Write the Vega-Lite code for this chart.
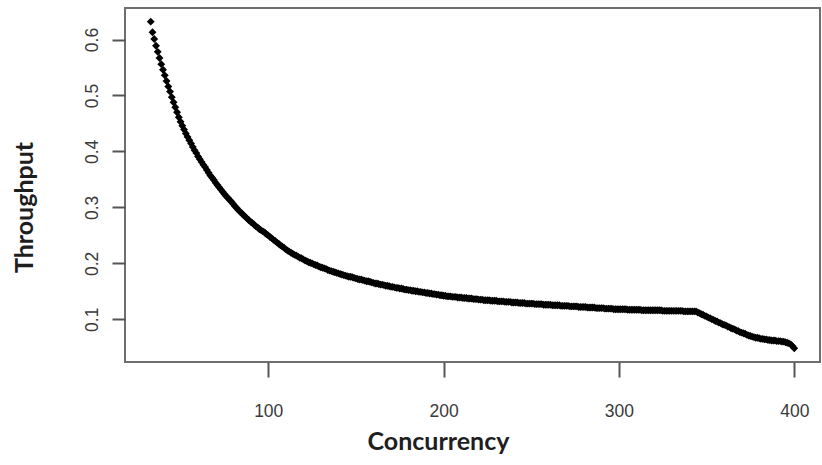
{
  "$schema": "https://vega.github.io/schema/vega-lite/v6.json",
  "width": 695,
  "height": 354,
  "autosize": {"type": "none"},
  "padding": {"left": 125, "top": 8, "right": 2, "bottom": 103},
  "background": "white",
  "config": {
    "view": {"stroke": "#6e6e6e", "strokeWidth": 2},
    "axis": {
      "grid": false,
      "domain": false,
      "tickColor": "#555555",
      "tickWidth": 2,
      "labelFont": "Liberation Sans",
      "labelFontSize": 17.5,
      "labelColor": "#3a3a3a",
      "titleFont": "Lato",
      "titleFontWeight": "bold",
      "titleFontSize": 25,
      "titleColor": "#1e1e1e"
    }
  },
  "data": {
    "values": [
      {"concurrency": 33, "throughput": 0.632},
      {"concurrency": 34, "throughput": 0.613},
      {"concurrency": 35, "throughput": 0.601},
      {"concurrency": 36, "throughput": 0.589},
      {"concurrency": 37, "throughput": 0.578},
      {"concurrency": 38, "throughput": 0.567},
      {"concurrency": 39, "throughput": 0.556},
      {"concurrency": 40, "throughput": 0.546},
      {"concurrency": 41, "throughput": 0.536},
      {"concurrency": 42, "throughput": 0.526},
      {"concurrency": 43, "throughput": 0.516},
      {"concurrency": 44, "throughput": 0.507},
      {"concurrency": 45, "throughput": 0.497},
      {"concurrency": 46, "throughput": 0.488},
      {"concurrency": 47, "throughput": 0.479},
      {"concurrency": 48, "throughput": 0.470},
      {"concurrency": 49, "throughput": 0.461},
      {"concurrency": 50, "throughput": 0.453},
      {"concurrency": 51, "throughput": 0.446},
      {"concurrency": 52, "throughput": 0.439},
      {"concurrency": 53, "throughput": 0.432},
      {"concurrency": 54, "throughput": 0.426},
      {"concurrency": 55, "throughput": 0.420},
      {"concurrency": 56, "throughput": 0.414},
      {"concurrency": 57, "throughput": 0.408},
      {"concurrency": 58, "throughput": 0.402},
      {"concurrency": 59, "throughput": 0.397},
      {"concurrency": 60, "throughput": 0.391},
      {"concurrency": 61, "throughput": 0.386},
      {"concurrency": 62, "throughput": 0.381},
      {"concurrency": 63, "throughput": 0.376},
      {"concurrency": 64, "throughput": 0.372},
      {"concurrency": 65, "throughput": 0.367},
      {"concurrency": 66, "throughput": 0.362},
      {"concurrency": 67, "throughput": 0.357},
      {"concurrency": 68, "throughput": 0.353},
      {"concurrency": 69, "throughput": 0.349},
      {"concurrency": 70, "throughput": 0.344},
      {"concurrency": 71, "throughput": 0.340},
      {"concurrency": 72, "throughput": 0.336},
      {"concurrency": 73, "throughput": 0.332},
      {"concurrency": 74, "throughput": 0.328},
      {"concurrency": 75, "throughput": 0.324},
      {"concurrency": 76, "throughput": 0.320},
      {"concurrency": 77, "throughput": 0.317},
      {"concurrency": 78, "throughput": 0.313},
      {"concurrency": 79, "throughput": 0.310},
      {"concurrency": 80, "throughput": 0.306},
      {"concurrency": 81, "throughput": 0.302},
      {"concurrency": 82, "throughput": 0.299},
      {"concurrency": 83, "throughput": 0.295},
      {"concurrency": 84, "throughput": 0.292},
      {"concurrency": 85, "throughput": 0.289},
      {"concurrency": 86, "throughput": 0.286},
      {"concurrency": 87, "throughput": 0.283},
      {"concurrency": 88, "throughput": 0.280},
      {"concurrency": 89, "throughput": 0.277},
      {"concurrency": 90, "throughput": 0.274},
      {"concurrency": 91, "throughput": 0.272},
      {"concurrency": 92, "throughput": 0.269},
      {"concurrency": 93, "throughput": 0.266},
      {"concurrency": 94, "throughput": 0.264},
      {"concurrency": 95, "throughput": 0.261},
      {"concurrency": 96, "throughput": 0.259},
      {"concurrency": 97, "throughput": 0.257},
      {"concurrency": 98, "throughput": 0.255},
      {"concurrency": 99, "throughput": 0.252},
      {"concurrency": 100, "throughput": 0.250},
      {"concurrency": 101, "throughput": 0.247},
      {"concurrency": 102, "throughput": 0.245},
      {"concurrency": 103, "throughput": 0.242},
      {"concurrency": 104, "throughput": 0.240},
      {"concurrency": 105, "throughput": 0.237},
      {"concurrency": 106, "throughput": 0.235},
      {"concurrency": 107, "throughput": 0.232},
      {"concurrency": 108, "throughput": 0.230},
      {"concurrency": 109, "throughput": 0.228},
      {"concurrency": 110, "throughput": 0.225},
      {"concurrency": 111, "throughput": 0.223},
      {"concurrency": 112, "throughput": 0.221},
      {"concurrency": 113, "throughput": 0.219},
      {"concurrency": 114, "throughput": 0.217},
      {"concurrency": 115, "throughput": 0.215},
      {"concurrency": 116, "throughput": 0.214},
      {"concurrency": 117, "throughput": 0.212},
      {"concurrency": 118, "throughput": 0.210},
      {"concurrency": 119, "throughput": 0.209},
      {"concurrency": 120, "throughput": 0.207},
      {"concurrency": 121, "throughput": 0.205},
      {"concurrency": 122, "throughput": 0.204},
      {"concurrency": 123, "throughput": 0.202},
      {"concurrency": 124, "throughput": 0.201},
      {"concurrency": 125, "throughput": 0.200},
      {"concurrency": 126, "throughput": 0.198},
      {"concurrency": 127, "throughput": 0.197},
      {"concurrency": 128, "throughput": 0.196},
      {"concurrency": 129, "throughput": 0.194},
      {"concurrency": 130, "throughput": 0.193},
      {"concurrency": 131, "throughput": 0.192},
      {"concurrency": 132, "throughput": 0.191},
      {"concurrency": 133, "throughput": 0.190},
      {"concurrency": 134, "throughput": 0.188},
      {"concurrency": 135, "throughput": 0.187},
      {"concurrency": 136, "throughput": 0.186},
      {"concurrency": 137, "throughput": 0.185},
      {"concurrency": 138, "throughput": 0.184},
      {"concurrency": 139, "throughput": 0.183},
      {"concurrency": 140, "throughput": 0.182},
      {"concurrency": 141, "throughput": 0.181},
      {"concurrency": 142, "throughput": 0.180},
      {"concurrency": 143, "throughput": 0.179},
      {"concurrency": 144, "throughput": 0.178},
      {"concurrency": 145, "throughput": 0.177},
      {"concurrency": 146, "throughput": 0.176},
      {"concurrency": 147, "throughput": 0.176},
      {"concurrency": 148, "throughput": 0.175},
      {"concurrency": 149, "throughput": 0.174},
      {"concurrency": 150, "throughput": 0.173},
      {"concurrency": 151, "throughput": 0.172},
      {"concurrency": 152, "throughput": 0.171},
      {"concurrency": 153, "throughput": 0.171},
      {"concurrency": 154, "throughput": 0.170},
      {"concurrency": 155, "throughput": 0.169},
      {"concurrency": 156, "throughput": 0.168},
      {"concurrency": 157, "throughput": 0.168},
      {"concurrency": 158, "throughput": 0.167},
      {"concurrency": 159, "throughput": 0.166},
      {"concurrency": 160, "throughput": 0.165},
      {"concurrency": 161, "throughput": 0.164},
      {"concurrency": 162, "throughput": 0.164},
      {"concurrency": 163, "throughput": 0.163},
      {"concurrency": 164, "throughput": 0.162},
      {"concurrency": 165, "throughput": 0.162},
      {"concurrency": 166, "throughput": 0.161},
      {"concurrency": 167, "throughput": 0.160},
      {"concurrency": 168, "throughput": 0.160},
      {"concurrency": 169, "throughput": 0.159},
      {"concurrency": 170, "throughput": 0.158},
      {"concurrency": 171, "throughput": 0.158},
      {"concurrency": 172, "throughput": 0.157},
      {"concurrency": 173, "throughput": 0.156},
      {"concurrency": 174, "throughput": 0.156},
      {"concurrency": 175, "throughput": 0.155},
      {"concurrency": 176, "throughput": 0.155},
      {"concurrency": 177, "throughput": 0.154},
      {"concurrency": 178, "throughput": 0.153},
      {"concurrency": 179, "throughput": 0.153},
      {"concurrency": 180, "throughput": 0.152},
      {"concurrency": 181, "throughput": 0.152},
      {"concurrency": 182, "throughput": 0.151},
      {"concurrency": 183, "throughput": 0.151},
      {"concurrency": 184, "throughput": 0.150},
      {"concurrency": 185, "throughput": 0.150},
      {"concurrency": 186, "throughput": 0.149},
      {"concurrency": 187, "throughput": 0.149},
      {"concurrency": 188, "throughput": 0.148},
      {"concurrency": 189, "throughput": 0.148},
      {"concurrency": 190, "throughput": 0.147},
      {"concurrency": 191, "throughput": 0.147},
      {"concurrency": 192, "throughput": 0.146},
      {"concurrency": 193, "throughput": 0.146},
      {"concurrency": 194, "throughput": 0.145},
      {"concurrency": 195, "throughput": 0.145},
      {"concurrency": 196, "throughput": 0.144},
      {"concurrency": 197, "throughput": 0.144},
      {"concurrency": 198, "throughput": 0.143},
      {"concurrency": 199, "throughput": 0.143},
      {"concurrency": 200, "throughput": 0.142},
      {"concurrency": 201, "throughput": 0.142},
      {"concurrency": 202, "throughput": 0.141},
      {"concurrency": 203, "throughput": 0.141},
      {"concurrency": 204, "throughput": 0.141},
      {"concurrency": 205, "throughput": 0.140},
      {"concurrency": 206, "throughput": 0.140},
      {"concurrency": 207, "throughput": 0.140},
      {"concurrency": 208, "throughput": 0.139},
      {"concurrency": 209, "throughput": 0.139},
      {"concurrency": 210, "throughput": 0.139},
      {"concurrency": 211, "throughput": 0.138},
      {"concurrency": 212, "throughput": 0.138},
      {"concurrency": 213, "throughput": 0.138},
      {"concurrency": 214, "throughput": 0.137},
      {"concurrency": 215, "throughput": 0.137},
      {"concurrency": 216, "throughput": 0.137},
      {"concurrency": 217, "throughput": 0.136},
      {"concurrency": 218, "throughput": 0.136},
      {"concurrency": 219, "throughput": 0.136},
      {"concurrency": 220, "throughput": 0.135},
      {"concurrency": 221, "throughput": 0.135},
      {"concurrency": 222, "throughput": 0.135},
      {"concurrency": 223, "throughput": 0.134},
      {"concurrency": 224, "throughput": 0.134},
      {"concurrency": 225, "throughput": 0.134},
      {"concurrency": 226, "throughput": 0.134},
      {"concurrency": 227, "throughput": 0.133},
      {"concurrency": 228, "throughput": 0.133},
      {"concurrency": 229, "throughput": 0.133},
      {"concurrency": 230, "throughput": 0.133},
      {"concurrency": 231, "throughput": 0.132},
      {"concurrency": 232, "throughput": 0.132},
      {"concurrency": 233, "throughput": 0.132},
      {"concurrency": 234, "throughput": 0.132},
      {"concurrency": 235, "throughput": 0.131},
      {"concurrency": 236, "throughput": 0.131},
      {"concurrency": 237, "throughput": 0.131},
      {"concurrency": 238, "throughput": 0.131},
      {"concurrency": 239, "throughput": 0.130},
      {"concurrency": 240, "throughput": 0.130},
      {"concurrency": 241, "throughput": 0.130},
      {"concurrency": 242, "throughput": 0.130},
      {"concurrency": 243, "throughput": 0.129},
      {"concurrency": 244, "throughput": 0.129},
      {"concurrency": 245, "throughput": 0.129},
      {"concurrency": 246, "throughput": 0.129},
      {"concurrency": 247, "throughput": 0.128},
      {"concurrency": 248, "throughput": 0.128},
      {"concurrency": 249, "throughput": 0.128},
      {"concurrency": 250, "throughput": 0.128},
      {"concurrency": 251, "throughput": 0.128},
      {"concurrency": 252, "throughput": 0.127},
      {"concurrency": 253, "throughput": 0.127},
      {"concurrency": 254, "throughput": 0.127},
      {"concurrency": 255, "throughput": 0.127},
      {"concurrency": 256, "throughput": 0.127},
      {"concurrency": 257, "throughput": 0.126},
      {"concurrency": 258, "throughput": 0.126},
      {"concurrency": 259, "throughput": 0.126},
      {"concurrency": 260, "throughput": 0.126},
      {"concurrency": 261, "throughput": 0.126},
      {"concurrency": 262, "throughput": 0.125},
      {"concurrency": 263, "throughput": 0.125},
      {"concurrency": 264, "throughput": 0.125},
      {"concurrency": 265, "throughput": 0.125},
      {"concurrency": 266, "throughput": 0.125},
      {"concurrency": 267, "throughput": 0.124},
      {"concurrency": 268, "throughput": 0.124},
      {"concurrency": 269, "throughput": 0.124},
      {"concurrency": 270, "throughput": 0.124},
      {"concurrency": 271, "throughput": 0.124},
      {"concurrency": 272, "throughput": 0.123},
      {"concurrency": 273, "throughput": 0.123},
      {"concurrency": 274, "throughput": 0.123},
      {"concurrency": 275, "throughput": 0.123},
      {"concurrency": 276, "throughput": 0.123},
      {"concurrency": 277, "throughput": 0.122},
      {"concurrency": 278, "throughput": 0.122},
      {"concurrency": 279, "throughput": 0.122},
      {"concurrency": 280, "throughput": 0.122},
      {"concurrency": 281, "throughput": 0.122},
      {"concurrency": 282, "throughput": 0.121},
      {"concurrency": 283, "throughput": 0.121},
      {"concurrency": 284, "throughput": 0.121},
      {"concurrency": 285, "throughput": 0.121},
      {"concurrency": 286, "throughput": 0.121},
      {"concurrency": 287, "throughput": 0.120},
      {"concurrency": 288, "throughput": 0.120},
      {"concurrency": 289, "throughput": 0.120},
      {"concurrency": 290, "throughput": 0.120},
      {"concurrency": 291, "throughput": 0.120},
      {"concurrency": 292, "throughput": 0.119},
      {"concurrency": 293, "throughput": 0.119},
      {"concurrency": 294, "throughput": 0.119},
      {"concurrency": 295, "throughput": 0.119},
      {"concurrency": 296, "throughput": 0.119},
      {"concurrency": 297, "throughput": 0.118},
      {"concurrency": 298, "throughput": 0.118},
      {"concurrency": 299, "throughput": 0.118},
      {"concurrency": 300, "throughput": 0.118},
      {"concurrency": 301, "throughput": 0.118},
      {"concurrency": 302, "throughput": 0.118},
      {"concurrency": 303, "throughput": 0.118},
      {"concurrency": 304, "throughput": 0.118},
      {"concurrency": 305, "throughput": 0.117},
      {"concurrency": 306, "throughput": 0.117},
      {"concurrency": 307, "throughput": 0.117},
      {"concurrency": 308, "throughput": 0.117},
      {"concurrency": 309, "throughput": 0.117},
      {"concurrency": 310, "throughput": 0.117},
      {"concurrency": 311, "throughput": 0.117},
      {"concurrency": 312, "throughput": 0.117},
      {"concurrency": 313, "throughput": 0.116},
      {"concurrency": 314, "throughput": 0.116},
      {"concurrency": 315, "throughput": 0.116},
      {"concurrency": 316, "throughput": 0.116},
      {"concurrency": 317, "throughput": 0.116},
      {"concurrency": 318, "throughput": 0.116},
      {"concurrency": 319, "throughput": 0.116},
      {"concurrency": 320, "throughput": 0.116},
      {"concurrency": 321, "throughput": 0.116},
      {"concurrency": 322, "throughput": 0.116},
      {"concurrency": 323, "throughput": 0.116},
      {"concurrency": 324, "throughput": 0.116},
      {"concurrency": 325, "throughput": 0.115},
      {"concurrency": 326, "throughput": 0.115},
      {"concurrency": 327, "throughput": 0.115},
      {"concurrency": 328, "throughput": 0.115},
      {"concurrency": 329, "throughput": 0.115},
      {"concurrency": 330, "throughput": 0.115},
      {"concurrency": 331, "throughput": 0.115},
      {"concurrency": 332, "throughput": 0.115},
      {"concurrency": 333, "throughput": 0.115},
      {"concurrency": 334, "throughput": 0.115},
      {"concurrency": 335, "throughput": 0.115},
      {"concurrency": 336, "throughput": 0.115},
      {"concurrency": 337, "throughput": 0.114},
      {"concurrency": 338, "throughput": 0.114},
      {"concurrency": 339, "throughput": 0.114},
      {"concurrency": 340, "throughput": 0.114},
      {"concurrency": 341, "throughput": 0.114},
      {"concurrency": 342, "throughput": 0.114},
      {"concurrency": 343, "throughput": 0.114},
      {"concurrency": 344, "throughput": 0.114},
      {"concurrency": 345, "throughput": 0.112},
      {"concurrency": 346, "throughput": 0.111},
      {"concurrency": 347, "throughput": 0.109},
      {"concurrency": 348, "throughput": 0.108},
      {"concurrency": 349, "throughput": 0.106},
      {"concurrency": 350, "throughput": 0.105},
      {"concurrency": 351, "throughput": 0.103},
      {"concurrency": 352, "throughput": 0.102},
      {"concurrency": 353, "throughput": 0.100},
      {"concurrency": 354, "throughput": 0.099},
      {"concurrency": 355, "throughput": 0.097},
      {"concurrency": 356, "throughput": 0.096},
      {"concurrency": 357, "throughput": 0.094},
      {"concurrency": 358, "throughput": 0.093},
      {"concurrency": 359, "throughput": 0.091},
      {"concurrency": 360, "throughput": 0.090},
      {"concurrency": 361, "throughput": 0.089},
      {"concurrency": 362, "throughput": 0.087},
      {"concurrency": 363, "throughput": 0.086},
      {"concurrency": 364, "throughput": 0.084},
      {"concurrency": 365, "throughput": 0.083},
      {"concurrency": 366, "throughput": 0.082},
      {"concurrency": 367, "throughput": 0.080},
      {"concurrency": 368, "throughput": 0.079},
      {"concurrency": 369, "throughput": 0.077},
      {"concurrency": 370, "throughput": 0.076},
      {"concurrency": 371, "throughput": 0.075},
      {"concurrency": 372, "throughput": 0.074},
      {"concurrency": 373, "throughput": 0.072},
      {"concurrency": 374, "throughput": 0.071},
      {"concurrency": 375, "throughput": 0.070},
      {"concurrency": 376, "throughput": 0.069},
      {"concurrency": 377, "throughput": 0.068},
      {"concurrency": 378, "throughput": 0.067},
      {"concurrency": 379, "throughput": 0.067},
      {"concurrency": 380, "throughput": 0.066},
      {"concurrency": 381, "throughput": 0.065},
      {"concurrency": 382, "throughput": 0.065},
      {"concurrency": 383, "throughput": 0.064},
      {"concurrency": 384, "throughput": 0.064},
      {"concurrency": 385, "throughput": 0.063},
      {"concurrency": 386, "throughput": 0.063},
      {"concurrency": 387, "throughput": 0.062},
      {"concurrency": 388, "throughput": 0.062},
      {"concurrency": 389, "throughput": 0.062},
      {"concurrency": 390, "throughput": 0.061},
      {"concurrency": 391, "throughput": 0.061},
      {"concurrency": 392, "throughput": 0.061},
      {"concurrency": 393, "throughput": 0.060},
      {"concurrency": 394, "throughput": 0.060},
      {"concurrency": 395, "throughput": 0.059},
      {"concurrency": 396, "throughput": 0.058},
      {"concurrency": 397, "throughput": 0.057},
      {"concurrency": 398, "throughput": 0.055},
      {"concurrency": 399, "throughput": 0.052},
      {"concurrency": 400, "throughput": 0.048}
    ]
  },
  "mark": {"type": "point", "shape": "diamond", "filled": true, "size": 62, "color": "black", "opacity": 1},
  "encoding": {
    "x": {
      "field": "concurrency",
      "type": "quantitative",
      "scale": {"domain": [18.32, 414.68], "nice": false, "zero": false},
      "axis": {
        "values": [100, 200, 300, 400],
        "tickSize": 15,
        "labelPadding": 25,
        "labelBaseline": "top",
        "title": "Concurrency",
        "titleX": 313,
        "titleY": 87,
        "titleBaseline": "alphabetic",
        "titleAlign": "center"
      }
    },
    "y": {
      "field": "throughput",
      "type": "quantitative",
      "scale": {"domain": [0.0236, 0.6564], "nice": false, "zero": false},
      "axis": {
        "values": [0.1, 0.2, 0.3, 0.4, 0.5, 0.6],
        "format": ".1f",
        "tickSize": 13,
        "labelAngle": 270,
        "labelAlign": "center",
        "labelBaseline": "alphabetic",
        "labelPadding": 15,
        "title": "Throughput",
        "titleAngle": 270,
        "titleX": -93,
        "titleY": 199,
        "titleAlign": "center",
        "titleBaseline": "alphabetic"
      }
    }
  }
}
